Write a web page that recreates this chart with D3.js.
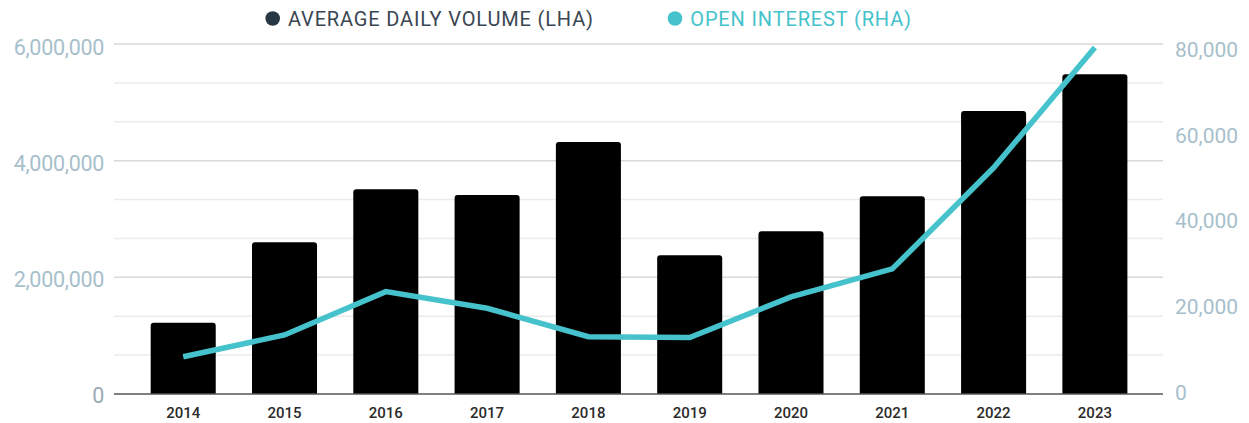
<!DOCTYPE html>
<html>
<head>
<meta charset="utf-8">
<script src="https://cdn.jsdelivr.net/npm/d3@7"></script>
<style>
  body { margin: 0; background: #fff; }
  svg { font-family: Roboto, "DejaVu Sans", sans-serif; }
</style>
</head>
<body>
<div id="chart"></div>
<script>
/* DATA */
const years = ["2014", "2015", "2016", "2017", "2018", "2019", "2020", "2021", "2022", "2023"];
const dailyVolume = [1220000, 2600000, 3510000, 3410000, 4320000, 2380000, 2790000, 3390000, 4850000, 5480000];
const openInterest = [8500, 13500, 23400, 19600, 13100, 12900, 22200, 28600, 51700, 79200];
const leftTicks = [0, 2000000, 4000000, 6000000];
const rightTicks = [0, 20000, 40000, 60000, 80000];

const width = 1249,
  height = 423,
  margin = ({top: 44, right: 86, bottom: 29, left: 114});

const svg = d3.select("#chart")
  .append("svg")
  .attr("width", width)
  .attr("height", height);

const x = d3.scaleBand()
  .domain(years)
  .range([150.7, 1127.4])
  .paddingInner(0.358)
  .paddingOuter(0);

const yLeft = d3.scaleLinear()
  .domain([0, 6000000])
  .range([height - margin.bottom, margin.top]);

const yRight = d3.scaleLinear()
  .domain([0, 80000])
  .range([height - margin.bottom, margin.top]);

// the tick labels sit a little off their gridlines in the original
const yLeftLabel = yLeft.copy().range([403, 55]);
const yRightLabel = yRight.copy().range([400, 56.7]);

// gridlines: 9 equal steps across the plot
const grid = d3.range(0, 6000001, 6000000 / 9);
svg.append("g")
  .selectAll("line")
  .data(grid.slice(1))
  .join("line")
  .attr("x1", margin.left)
  .attr("x2", width - margin.right)
  .attr("y1", d => yLeft(d))
  .attr("y2", d => yLeft(d))
  .attr("stroke", (d, i) => (i % 3 == 2) ? "#d9d9d9" : "#ebebeb")
  .attr("stroke-width", 1.5);

// bars
svg.append("g")
  .selectAll("path")
  .data(years)
  .join("path")
  .attr("fill", "#000")
  .attr("d", (d, i) => {
    const x0 = x(d), w = x.bandwidth(), y0 = yLeft(dailyVolume[i]), y1 = yLeft(0), r = 3;
    return `M${x0},${y1}V${y0 + r}Q${x0},${y0} ${x0 + r},${y0}H${x0 + w - r}Q${x0 + w},${y0} ${x0 + w},${y0 + r}V${y1}Z`;
  });

// baseline
svg.append("line")
  .attr("x1", margin.left)
  .attr("x2", width - margin.right)
  .attr("y1", yLeft(0))
  .attr("y2", yLeft(0))
  .attr("stroke", "#555")
  .attr("stroke-width", 1.5);

// open interest line
const line = d3.line()
  .x((d, i) => x(years[i]) + x.bandwidth() / 2)
  .y(d => yRight(d));

svg.append("path")
  .datum(openInterest)
  .attr("d", line)
  .attr("fill", "none")
  .attr("stroke", "#45c2cb")
  .attr("stroke-width", 5.5);

// left axis labels
svg.append("g")
  .selectAll("text")
  .data(leftTicks)
  .join("text")
  .attr("x", 104)
  .attr("y", d => yLeftLabel(d))
  .attr("text-anchor", "end")
  .attr("fill", d => d == 0 ? "#9aaab3" : "#a7bfcb")
  .style("font-size", "21.5px")
  .style("letter-spacing", "-0.3px")
  .text(d => d3.format(",")(d));

// right axis labels
svg.append("g")
  .selectAll("text")
  .data(rightTicks)
  .join("text")
  .attr("x", 1175)
  .attr("y", d => yRightLabel(d))
  .attr("text-anchor", "start")
  .attr("fill", "#a7bfcb")
  .style("font-size", "21px")
  .text(d => d3.format(",")(d));

// x labels
svg.append("g")
  .selectAll("text")
  .data(years)
  .join("text")
  .attr("x", d => x(d) + x.bandwidth() / 2)
  .attr("y", 418)
  .attr("text-anchor", "middle")
  .attr("fill", "#2b2b2b")
  .style("font-size", "15px")
  .style("font-weight", "500")
  .text(d => d);

// legend
const legend = [
  {label: "AVERAGE DAILY VOLUME (LHA)", dot: "#263642", color: "#3a4651", x: 272.7},
  {label: "OPEN INTEREST (RHA)", dot: "#45c2cb", color: "#45c2cb", x: 675}
];
const lg = svg.append("g")
  .selectAll("g")
  .data(legend)
  .join("g")
  .attr("transform", d => `translate(${d.x},18.5)`);
lg.append("circle")
  .attr("r", 7.3)
  .attr("fill", d => d.dot);
lg.append("text")
  .attr("x", 15.3)
  .attr("y", 7.5)
  .attr("fill", d => d.color)
  .style("font-size", "20px")
  .style("letter-spacing", "0.85px")
  .text(d => d.label);
</script>
</body>
</html>
